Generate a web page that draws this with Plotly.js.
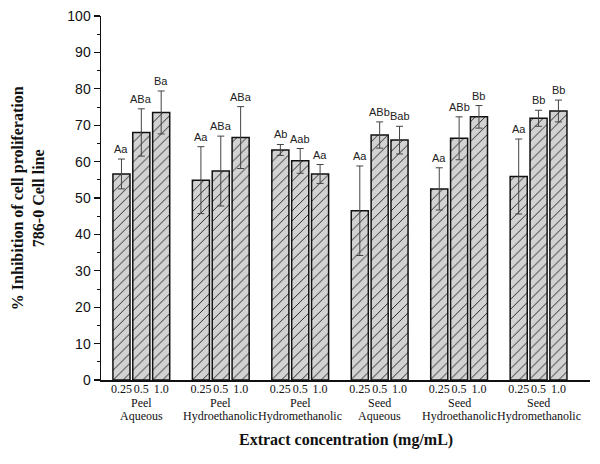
<!DOCTYPE html>
<html>
<head>
<meta charset="utf-8">
<script src="https://cdn.plot.ly/plotly-3.0.1.min.js"></script>
<style>html,body{margin:0;padding:0;background:#fff;}#chart{width:600px;height:464px;}</style>
</head>
<body>
<div id="chart"></div>
<script>
// ---- data ----
const sources = ["Peel", "Peel", "Peel", "Seed", "Seed", "Seed"];
const solvents = ["Aqueous", "Hydroethanolic", "Hydromethanolic",
                  "Aqueous", "Hydroethanolic", "Hydromethanolic"];
const concentrations = ["0.25", "0.5", "1.0"];
const inhibition = [56.6, 68.0, 73.5,
                    54.9, 57.4, 66.6,
                    63.2, 60.2, 56.6,
                    46.5, 67.3, 65.9,
                    52.5, 66.4, 72.3,
                    55.9, 71.9, 73.9];
const sd = [4.1, 6.5, 5.9,
            9.2, 9.6, 8.5,
            1.5, 3.4, 2.6,
            12.3, 3.6, 3.8,
            5.8, 5.9, 3.1,
            10.3, 2.2, 3.0];
const letters = ["Aa", "ABa", "Ba",
                 "Aa", "ABa", "ABa",
                 "Ab", "Aab", "Aa",
                 "Aa", "ABb", "Bab",
                 "Aa", "ABb", "Bb",
                 "Aa", "Bb", "Bb"];

// ---- layout helpers (slot index: 3 bars + 1 gap per group) ----
const slotsPerGroup = concentrations.length + 1;
const xs = [], tickText = [];
sources.forEach((g, gi) => concentrations.forEach((c, ci) => {
  xs.push(gi * slotsPerGroup + ci);
  tickText.push(c);
}));

const serif = "Liberation Serif, Times New Roman, serif";
const sans = "Liberation Sans, Arial, sans-serif";

const trace = {
  type: "bar",
  x: xs,
  y: inhibition,
  width: 0.86,
  marker: {
    color: "#d2d2d2",
    line: {color: "#111", width: 1.5},
    pattern: {shape: "/", bgcolor: "#d2d2d2", fgcolor: "#1a1a1a", size: 7, solidity: 0.13}
  },
  error_y: {type: "data", array: sd, visible: true, color: "#444", thickness: 1, width: 3.5},
  hoverinfo: "skip"
};

const annotations = [];
xs.forEach((x, i) => {
  annotations.push({
    x: x, y: inhibition[i] + sd[i], xref: "x", yref: "y",
    text: letters[i], showarrow: false, yanchor: "bottom", yshift: 2,
    font: {family: sans, size: 11, color: "#222"}
  });
});
const plotH = 464 - 16 - 84;
sources.forEach((s, gi) => {
  const xc = gi * slotsPerGroup + (concentrations.length - 1) / 2;
  annotations.push({
    x: xc, xref: "x", y: (380 - 403) / plotH, yref: "paper", yanchor: "middle",
    text: s, showarrow: false, borderpad: 0,
    font: {family: serif, size: 12, color: "#111"}
  });
  annotations.push({
    x: xc, xref: "x", y: (380 - 416) / plotH, yref: "paper", yanchor: "middle",
    text: solvents[gi], showarrow: false, borderpad: 0,
    font: {family: serif, size: 12, color: "#111"}
  });
});
annotations.push({
  x: 0.5, xref: "paper", y: (380 - 440) / plotH, yref: "paper", xanchor: "center", yanchor: "middle",
  text: "<b>Extract concentration (mg/mL)</b>", showarrow: false,
  font: {family: serif, size: 16, color: "#111"}
});
annotations.push({
  x: -0.149, xref: "paper", y: 0.5, yref: "paper", xanchor: "center", yanchor: "middle",
  textangle: -90,
  text: "<b>% Inhibition of cell proliferation<br>786-0 Cell line</b>", showarrow: false,
  font: {family: serif, size: 16, color: "#111"}
});

const layout = {
  width: 600, height: 464,
  margin: {l: 101, r: 10, t: 16, b: 84},
  paper_bgcolor: "#fff", plot_bgcolor: "#fff",
  showlegend: false,
  bargap: 0,
  xaxis: {
    range: [-1.03, 23.59],
    tickmode: "array", tickvals: xs, ticktext: tickText,
    tickangle: 0, automargin: false, ticklabelstandoff: -3,
    ticks: "", ticklen: 0, showgrid: false, zeroline: false,
    showline: true, linecolor: "#111", linewidth: 1.5,
    tickfont: {family: serif, size: 12, color: "#111"},
    fixedrange: true
  },
  yaxis: {
    range: [0, 100], dtick: 10,
    ticks: "outside", ticklen: 6, tickwidth: 1.2, tickcolor: "#111",
    minor: {dtick: 5, ticks: "outside", ticklen: 3, tickwidth: 1, tickcolor: "#111"},
    showgrid: false, zeroline: false,
    showline: true, linecolor: "#111", linewidth: 1.5,
    tickfont: {family: sans, size: 14, color: "#111"},
    fixedrange: true
  },
  annotations: annotations
};

Plotly.newPlot("chart", [trace], layout, {staticPlot: true, displayModeBar: false});
</script>
</body>
</html>
